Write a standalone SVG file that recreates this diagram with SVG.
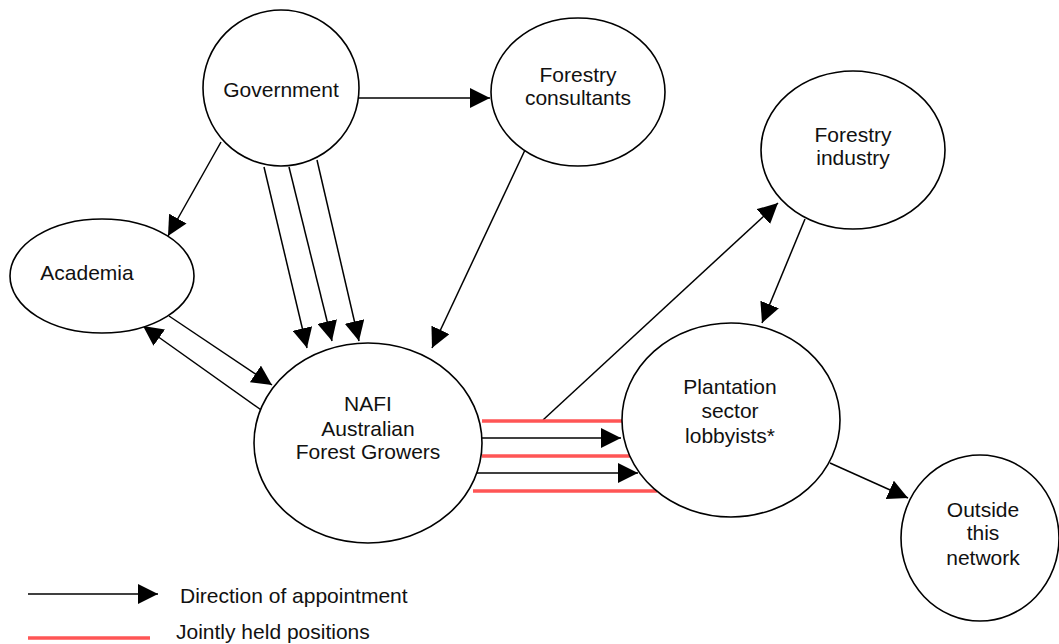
<svg xmlns="http://www.w3.org/2000/svg" width="1059" height="644" viewBox="0 0 1059 644">
<style>
.node{fill:#fff;stroke:#000;stroke-width:1.6}
.t{font-family:"Liberation Sans",Arial,sans-serif;font-size:21px;fill:#111;text-anchor:middle}
.a{stroke:#000;stroke-width:1.5;fill:none;marker-end:url(#arr)}
.j{stroke:#ff5555;stroke-width:3.5;fill:none}
</style>
<defs>
<marker id="arr" markerUnits="userSpaceOnUse" markerWidth="20" markerHeight="20" refX="20" refY="10" orient="auto" viewBox="0 0 20 20">
<path d="M0,0 L20,10 L0,20 z" fill="#000"/>
</marker>
</defs>
<rect width="1059" height="644" fill="#fff"/>
<g id="connectors">
<line class="a" x1="359" y1="98" x2="490" y2="98"/>
<line class="a" x1="221" y1="142" x2="168" y2="236"/>
<line class="a" x1="264" y1="167" x2="307" y2="348"/>
<line class="a" x1="289" y1="167" x2="332" y2="341"/>
<line class="a" x1="317" y1="160" x2="359" y2="341"/>
<line class="a" x1="525" y1="150" x2="432" y2="348"/>
<line class="a" x1="169" y1="316" x2="272" y2="385"/>
<line class="a" x1="264" y1="412" x2="143" y2="326"/>
<line class="a" x1="543" y1="420" x2="778" y2="203"/>
<line class="a" x1="805" y1="219" x2="762" y2="323"/>
<line class="a" x1="830" y1="463" x2="908" y2="498"/>
<line class="a" x1="482" y1="438" x2="621" y2="438"/>
<line class="a" x1="473" y1="473" x2="638" y2="473"/>
<line class="j" x1="482" y1="421" x2="622" y2="421"/>
<line class="j" x1="482" y1="456" x2="631" y2="456"/>
<line class="j" x1="473" y1="491" x2="657" y2="491"/>
</g>
<g id="government">
<ellipse class="node" cx="281" cy="88" rx="78" ry="78"/>
<text class="t" x="281" y="97">Government</text>
</g>
<g id="forestry-consultants">
<ellipse class="node" cx="578" cy="92" rx="87" ry="74"/>
<text class="t" x="578" y="82">Forestry</text>
<text class="t" x="578" y="105">consultants</text>
</g>
<g id="forestry-industry">
<ellipse class="node" cx="853" cy="150" rx="92" ry="79"/>
<text class="t" x="853" y="142">Forestry</text>
<text class="t" x="853" y="165">industry</text>
</g>
<g id="academia">
<ellipse class="node" cx="102" cy="276" rx="92" ry="57"/>
<text class="t" x="87" y="280">Academia</text>
</g>
<g id="nafi">
<ellipse class="node" cx="368" cy="443" rx="114" ry="100"/>
<text class="t" x="368" y="411">NAFI</text>
<text class="t" x="368" y="436">Australian</text>
<text class="t" x="368" y="459">Forest Growers</text>
</g>
<g id="plantation">
<ellipse class="node" cx="731" cy="420" rx="109" ry="97"/>
<text class="t" x="730" y="394">Plantation</text>
<text class="t" x="730" y="418">sector</text>
<text class="t" x="730" y="443">lobbyists*</text>
</g>
<g id="outside">
<ellipse class="node" cx="980" cy="538" rx="79" ry="83"/>
<text class="t" x="983" y="517">Outside</text>
<text class="t" x="983" y="540">this</text>
<text class="t" x="983" y="565">network</text>
</g>
<g id="legend">
<line class="a" x1="28" y1="594" x2="158" y2="594"/>
<text class="t" x="180" y="603" style="text-anchor:start">Direction of appointment</text>
<line class="j" x1="28" y1="638" x2="150" y2="638"/>
<text class="t" x="176" y="639" style="text-anchor:start">Jointly held positions</text>
</g>
</svg>
